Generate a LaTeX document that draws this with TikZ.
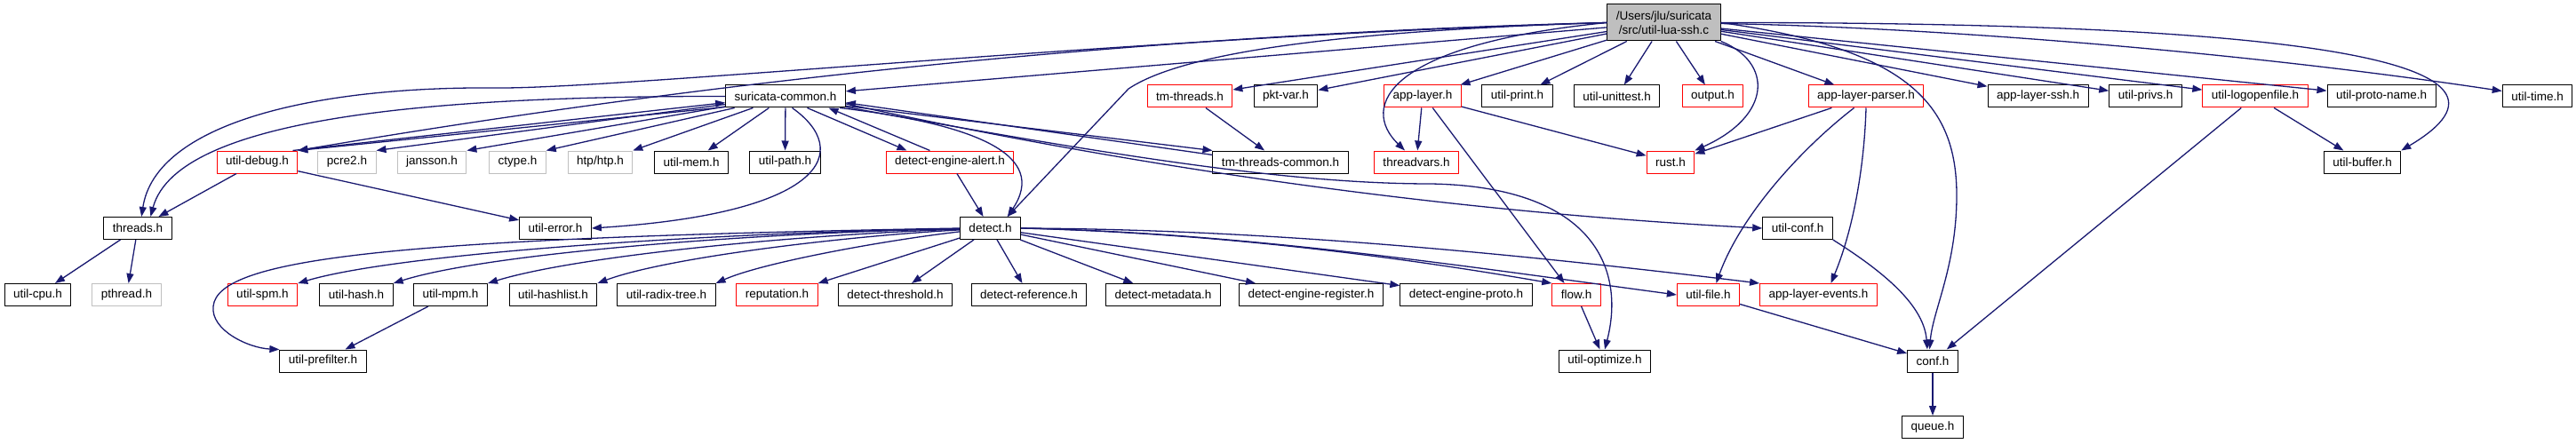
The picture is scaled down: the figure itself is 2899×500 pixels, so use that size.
\documentclass[tikz,border=0pt]{standalone}
\usepackage{fontspec}
\setmainfont{Liberation Sans}
\usetikzlibrary{arrows.meta}
\definecolor{navy}{HTML}{191970}
\definecolor{grey75}{HTML}{BFBFBF}
\tikzset{
  hdr/.style={draw=black, fill=white, line width=1pt, minimum height=25pt, inner xsep=10pt, inner ysep=0pt},
  trunc/.style={hdr, draw=red},
  sys/.style={hdr, draw=grey75},
  inc/.style={draw=navy, line width=1.3pt, ->}
}
\begin{document}
\begin{tikzpicture}[x=1pt, y=1pt, >={Triangle[length=11pt,width=8pt]}, font=\fontsize{13.5}{16}\selectfont, line join=round]
	\useasboundingbox (0,0) rectangle (2899,-500);
	\def \ra{-108.5} \def \rb{-182.5} \def \rc{-257} \def \rd{-332} \def \re{-406.5}
	% the file itself
	\node[hdr, fill=grey75, minimum height=41pt, align=center] (R) at (1872.5,-25.5) {/Users/jlu/suricata\\/src/util-lua-ssh.c};
	% first row
	\node[hdr] (sc) at (884,\ra) {suricata-common.h};
	\node[trunc] (tmt) at (1339,\ra) {tm-threads.h};
	\node[hdr] (pkt) at (1447,\ra) {pkt-var.h};
	\node[trunc] (al) at (1601,\ra) {app-layer.h};
	\node[hdr] (upr) at (1707.5,\ra) {util-print.h};
	\node[hdr] (uut) at (1819.5,\ra) {util-unittest.h};
	\node[trunc] (out) at (1927.5,\ra) {output.h};
	\node[trunc] (alp) at (2100,\ra) {app-layer-parser.h};
	\node[hdr] (als) at (2293.5,\ra) {app-layer-ssh.h};
	\node[hdr] (upv) at (2414.5,\ra) {util-privs.h};
	\node[trunc] (ulog) at (2538,\ra) {util-logopenfile.h};
	\node[hdr] (upn) at (2680,\ra) {util-proto-name.h};
	\node[hdr] (utm) at (2855.5,\ra) {util-time.h};
	% second row
	\node[trunc] (udbg) at (289.5,\rb) {util-debug.h};
	\node[sys] (pcre) at (390.5,\rb) {pcre2.h};
	\node[sys] (jans) at (486,\rb) {jansson.h};
	\node[sys] (ctyp) at (582.5,\rb) {ctype.h};
	\node[sys] (htp) at (675.5,\rb) {htp/htp.h};
	\node[hdr] (umem) at (778,\rb) {util-mem.h};
	\node[hdr] (upath) at (883.5,\rb) {util-path.h};
	\node[trunc] (dea) at (1069,\rb) {detect-engine-alert.h};
	\node[hdr] (tmc) at (1441,\rb) {tm-threads-common.h};
	\node[trunc] (tv) at (1594,\rb) {threadvars.h};
	\node[trunc] (rust) at (1880,\rb) {rust.h};
	\node[hdr] (ubuf) at (2658.5,\rb) {util-buffer.h};
	% third row
	\node[hdr] (thr) at (155,\rc) {threads.h};
	\node[hdr] (uerr) at (625,\rc) {util-error.h};
	\node[hdr] (det) at (1114.5,\rc) {detect.h};
	\node[hdr] (uconf) at (2023,\rc) {util-conf.h};
	% fourth row
	\node[hdr] (ucpu) at (42.5,\rd) {util-cpu.h};
	\node[sys] (pth) at (142.5,\rd) {pthread.h};
	\node[trunc] (uspm) at (295.5,\rd) {util-spm.h};
	\node[hdr] (uhash) at (401,\rd) {util-hash.h};
	\node[hdr] (umpm) at (507,\rd) {util-mpm.h};
	\node[hdr] (uhl) at (622.5,\rd) {util-hashlist.h};
	\node[hdr] (urt) at (750,\rd) {util-radix-tree.h};
	\node[trunc] (rep) at (874.5,\rd) {reputation.h};
	\node[hdr] (dthr) at (1007.5,\rd) {detect-threshold.h};
	\node[hdr] (dref) at (1158,\rd) {detect-reference.h};
	\node[hdr] (dmeta) at (1309,\rd) {detect-metadata.h};
	\node[hdr] (dreg) at (1475.5,\rd) {detect-engine-register.h};
	\node[hdr] (dproto) at (1650,\rd) {detect-engine-proto.h};
	\node[trunc] (flow) at (1774,\rd) {flow.h};
	\node[trunc] (ufile) at (1922.5,\rd) {util-file.h};
	\node[trunc] (ale) at (2046.5,\rd) {app-layer-events.h};
	% bottom rows
	\node[hdr] (upf) at (363.5,\re) {util-prefilter.h};
	\node[hdr] (uopt) at (1806,\re) {util-optimize.h};
	\node[hdr] (conf) at (2175,\re) {conf.h};
	\node[hdr] (queue) at (2175,-481) {queue.h};
	% includes of the .c file
	\draw[inc] (R) -- (sc);
	\draw[inc] (R.west) .. controls (1300,-40) and (700,-100) .. (560,-99) .. controls (350,-97) and (175,-140) .. (thr.72);
	\draw[inc] (R.west) .. controls (1317,-38) and (826,-86) .. (udbg.north east);
	\draw[inc] (R.west) .. controls (1500,-35) and (1330,-60) .. (1270,-100) -- (det.34);
	\draw[inc] (R) -- (tmt);
	\draw[inc] (R) -- (pkt);
	\draw[inc] (R.west) .. controls (1560,-50) and (1530,-120) .. (tv.135);
	\draw[inc] (R) -- (al);
	\draw[inc] (R) -- (upr);
	\draw[inc] (R) -- (uut);
	\draw[inc] (R) -- (out);
	\draw[inc] (R.south east) .. controls (1995,-70) and (1995,-130) .. (rust.north east);
	\draw[inc] (R) -- (alp);
	\draw[inc] (R) -- (als);
	\draw[inc] (R) -- (upv);
	\draw[inc] (R) -- (ulog);
	\draw[inc] (R) -- (upn);
	\draw[inc] (R) .. controls (2150,-30) and (2500,-55) .. (utm);
	\draw[inc] (R.east) .. controls (2600,-25) and (2870,-70) .. (ubuf.north east);
	\draw[inc] (R.east) .. controls (2150,-55) and (2202,-120) .. (2202,-220) .. controls (2202,-300) and (2175,-350) .. (conf.105);
	% suricata-common.h
	\draw[inc] (sc.west) .. controls (500,-108) and (200,-130) .. (thr.42);
	\draw[inc] (sc.190) -- (udbg.north east);
	\draw[inc] (udbg.18) -- (sc.186);
	\draw[inc] (sc) -- (pcre.north east);
	\draw[inc] (sc) -- (jans.north east);
	\draw[inc] (sc) -- (ctyp.north east);
	\draw[inc] (sc) -- (htp.north east);
	\draw[inc] (sc) -- (umem);
	\draw[inc] (sc) -- (upath);
	\draw[inc] (sc.-60) .. controls (960,-170) and (930,-240) .. (uerr.east);
	\draw[inc] (sc.-28) -- (dea.165);
	\draw[inc] (dea.150) -- (sc.-15);
	\draw[inc] (sc.-12) .. controls (1100,-140) and (1180,-175) .. (det.34);
	\draw[inc] (sc.-9) -- (tmc.north west);
	\draw[inc] (tmc.174) -- (sc.-6);
	\draw[inc] (sc.-7) .. controls (1295,-192) and (1639,-239) .. (uconf.west);
	\draw[inc] (sc.-10) .. controls (1250,-175) and (1450,-207) .. (1610,-207) .. controls (1790,-210) and (1830,-300) .. (uopt.north);
	% the rest
	\draw[inc] (udbg) -- (uerr);
	\draw[inc] (udbg) -- (thr);
	\draw[inc] (thr) -- (ucpu);
	\draw[inc] (thr) -- (pth);
	\draw[inc] (tmt) -- (tmc);
	\draw[inc] (dea) -- (det);
	\draw[inc] (al) -- (tv);
	\draw[inc] (al.-49) -- (flow.136);
	\draw[inc] (al) -- (rust);
	\draw[inc] (alp) -- (rust);
	\draw[inc] (alp.-136) .. controls (2030,-165) and (1960,-240) .. (ufile.56);
	\draw[inc] (alp.south) .. controls (2098,-190) and (2085,-260) .. (ale.43);
	\draw[inc] (ulog) -- (conf);
	\draw[inc] (ulog) -- (ubuf);
	\draw[inc] (uconf.south east) .. controls (2110,-300) and (2165,-340) .. (conf.115);
	\draw[inc] (ufile) -- (conf);
	\draw[inc] (flow) -- (uopt);
	\draw[inc] (conf) -- (queue);
	\draw[inc] (umpm) -- (upf);
	% detect.h
	\draw[inc] (det.west) .. controls (450,-268) and (245,-290) .. (240,-345) .. controls (237,-372) and (280,-392) .. (upf.north west);
	\draw[inc] (det) .. controls (800,-262) and (450,-285) .. (uspm.north east);
	\draw[inc] (det) .. controls (850,-262) and (550,-285) .. (uhash.north east);
	\draw[inc] (det) .. controls (900,-264) and (650,-288) .. (umpm.north east);
	\draw[inc] (det) .. controls (950,-266) and (750,-290) .. (uhl.north east);
	\draw[inc] (det) .. controls (1000,-270) and (860,-295) .. (urt.north east);
	\draw[inc] (det) -- (rep.north east);
	\draw[inc] (det) -- (dthr);
	\draw[inc] (det) -- (dref);
	\draw[inc] (det) -- (dmeta);
	\draw[inc] (det) -- (dreg);
	\draw[inc] (det) -- (dproto);
	\draw[inc] (det.east) .. controls (1350,-262) and (1550,-285) .. (flow.north west);
	\draw[inc] (det.east) .. controls (1400,-262) and (1650,-300) .. (ufile.west);
	\draw[inc] (det.east) .. controls (1420,-258) and (1700,-285) .. (ale.north west);
\end{tikzpicture}
\end{document}
